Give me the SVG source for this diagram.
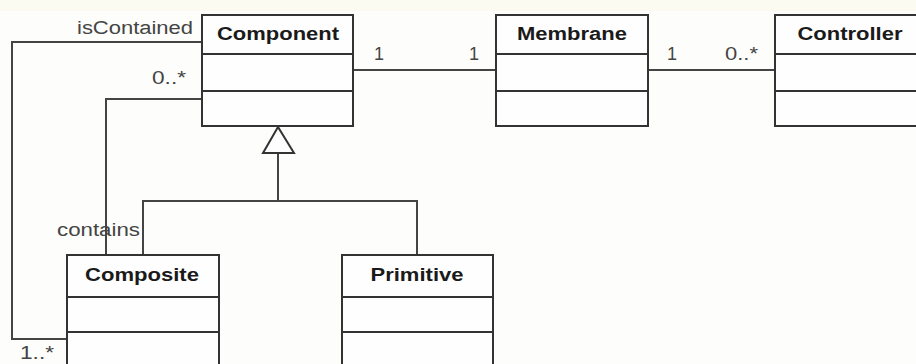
<svg xmlns="http://www.w3.org/2000/svg" width="916" height="364" viewBox="0 0 916 364">
<style>
.box{fill:#fefefe;stroke:#333;stroke-width:2}
.div{stroke:#333;stroke-width:2}
.title{font-family:"Liberation Sans",Arial,sans-serif;font-weight:bold;font-size:18px;fill:#1a1a1a;text-anchor:middle}
.lbl{font-family:"Liberation Sans",Arial,sans-serif;font-size:18px;fill:#444}
.conn{fill:none;stroke:#444;stroke-width:2}
</style>
<rect width="916" height="364" fill="#fdfdfb"/>
<rect width="916" height="11" fill="#fbfbf1"/>
<g id="connectors">
<path class="conn" d="M353,70 H496"/>
<path class="conn" d="M648,70 H775"/>
<path class="conn" d="M202,42 H12 V339 H67"/>
<path class="conn" d="M202,99 H106 V255"/>
<path class="conn" d="M278,153 V201 M143,255 V201 H417 V255"/>
<polygon points="278,127 263,153 294,153" fill="#fefefe" stroke="#333" stroke-width="2"/>
<text class="lbl" x="374" y="60">1</text>
<text class="lbl" x="469" y="60">1</text>
<text class="lbl" x="667" y="60">1</text>
<text class="lbl" x="725" y="60" textLength="33" lengthAdjust="spacingAndGlyphs">0..*</text>
<text class="lbl" x="77" y="34" textLength="116" lengthAdjust="spacingAndGlyphs">isContained</text>
<text class="lbl" x="152" y="84" textLength="34" lengthAdjust="spacingAndGlyphs">0..*</text>
<text class="lbl" x="57" y="236" textLength="83" lengthAdjust="spacingAndGlyphs">contains</text>
<text class="lbl" x="20" y="359" font-size="16" textLength="34" lengthAdjust="spacingAndGlyphs">1..*</text>
</g>
<g id="component">
<rect class="box" x="202" y="15" width="151" height="111"/>
<line class="div" x1="202" y1="54" x2="353" y2="54"/>
<line class="div" x1="202" y1="91" x2="353" y2="91"/>
<text class="title" x="278" y="40" textLength="122" lengthAdjust="spacingAndGlyphs">Component</text>
</g>
<g id="membrane">
<rect class="box" x="496" y="15" width="152" height="111"/>
<line class="div" x1="496" y1="54" x2="648" y2="54"/>
<line class="div" x1="496" y1="91" x2="648" y2="91"/>
<text class="title" x="572" y="40" textLength="110" lengthAdjust="spacingAndGlyphs">Membrane</text>
</g>
<g id="controller">
<rect class="box" x="775" y="15" width="160" height="111"/>
<line class="div" x1="775" y1="54" x2="920" y2="54"/>
<line class="div" x1="775" y1="91" x2="920" y2="91"/>
<text class="title" x="850" y="40" textLength="105" lengthAdjust="spacingAndGlyphs">Controller</text>
</g>
<g id="composite">
<rect class="box" x="67" y="255" width="152" height="120"/>
<line class="div" x1="67" y1="297" x2="219" y2="297"/>
<line class="div" x1="67" y1="332" x2="219" y2="332"/>
<text class="title" x="142" y="281" textLength="114" lengthAdjust="spacingAndGlyphs">Composite</text>
</g>
<g id="primitive">
<rect class="box" x="342" y="255" width="151" height="120"/>
<line class="div" x1="342" y1="297" x2="493" y2="297"/>
<line class="div" x1="342" y1="332" x2="493" y2="332"/>
<text class="title" x="417" y="281" textLength="93" lengthAdjust="spacingAndGlyphs">Primitive</text>
</g>
</svg>
